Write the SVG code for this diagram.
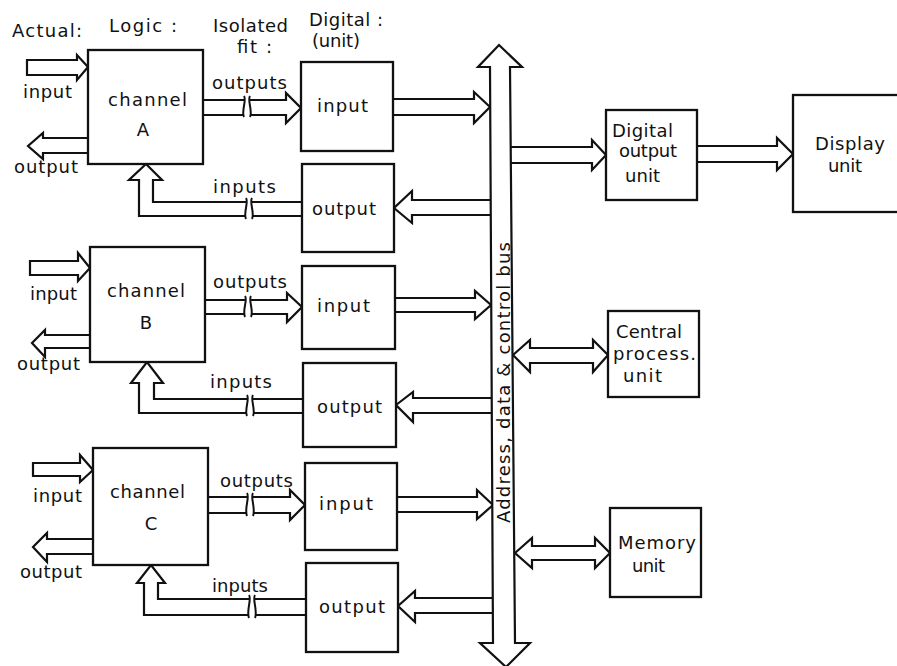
<svg xmlns="http://www.w3.org/2000/svg" width="897" height="666" viewBox="0 0 897 666">
<style>
  .box{fill:#fff;stroke:#111;stroke-width:2.3}
  .ar{fill:#fff;stroke:#111;stroke-width:2.2;stroke-linejoin:miter}
  .ln{fill:none;stroke:#111;stroke-width:2}
  .wh{fill:#fff;stroke:none}
  text{font-family:"DejaVu Sans","Liberation Sans",Arial,sans-serif;font-size:18px;fill:#111}
  .m{text-anchor:middle}
</style>
<rect width="897" height="666" fill="#fff"/>

<g id="headings">
  <text x="12" y="37" textLength="70" lengthAdjust="spacing">Actual:</text>
  <text x="109" y="32" textLength="68" lengthAdjust="spacing">Logic :</text>
  <text x="213" y="32" textLength="75" lengthAdjust="spacing">Isolated</text>
  <text x="237" y="53" textLength="35" lengthAdjust="spacing">fit :</text>
  <text x="309" y="26" textLength="74" lengthAdjust="spacing">Digital :</text>
  <text x="312" y="47" textLength="48" lengthAdjust="spacing">(unit)</text>
</g>

<g id="connectors">
  <!-- actual inputs (closed tail) -->
  <path class="ar" d="M27,60 H77 V55 L88,67 L77,80 V75 H27 Z"/>
  <path class="ar" d="M30,261 H78 V253 L90,268 L78,281 V275 H30 Z"/>
  <path class="ar" d="M33,463 H80 V455 L93,470 L80,482 V476 H33 Z"/>
  <!-- actual outputs -->
  <path class="ar" d="M88,138 H43 V133 L28,146 L43,159 V153 H88"/>
  <path class="ar" d="M90,335 H45 V330 L32,343 L45,357 V348 H90"/>
  <path class="ar" d="M93,539 H47 V533 L33,547 L47,562 V554 H93"/>

  <!-- channel outputs to digital input units -->
  <path class="ar" d="M203,100 H286 V93 L301,108 L286,123 V115 H203"/>
  <path class="ar" d="M205,300 H287 V293 L302,307 L287,322 V314 H205"/>
  <path class="ar" d="M208,497 H290 V490 L305,505 L290,520 V513 H208"/>
  <!-- breaks -->
  <rect class="wh" x="244" y="97" width="6" height="21"/>
  <path class="ln" d="M244,96 c3,4 -3,15 0,21 M250,96 c-3,4 3,15 0,21"/>
  <rect class="wh" x="245" y="297" width="6" height="20"/>
  <path class="ln" d="M245,296 c3,4 -3,14 0,21 M251,296 c-3,4 3,14 0,21"/>
  <rect class="wh" x="247" y="494" width="6" height="22"/>
  <path class="ln" d="M247,493 c3,4 -3,16 0,23 M253,493 c-3,4 3,16 0,23"/>

  <!-- feedback inputs -->
  <path class="ar" d="M302,202 H153 V180 H162 L146,164 L129,180 H139 V216 H302"/>
  <path class="ar" d="M303,399 H154 V383 H163 L147,362 L131,383 H139 V413 H303"/>
  <path class="ar" d="M306,599 H158 V583 H165 L151,565 L137,583 H144 V615 H306"/>
  <rect class="wh" x="246" y="199" width="6" height="20"/>
  <path class="ln" d="M246,198 c3,4 -3,15 0,21 M252,198 c-3,4 3,15 0,21"/>
  <rect class="wh" x="247" y="396" width="6" height="20"/>
  <path class="ln" d="M247,395 c3,4 -3,15 0,21 M253,395 c-3,4 3,15 0,21"/>
  <rect class="wh" x="249" y="596" width="6" height="22"/>
  <path class="ln" d="M249,595 c3,4 -3,16 0,23 M255,595 c-3,4 3,16 0,23"/>

  <!-- digital input units to bus -->
  <path class="ar" d="M393,99 H474 V92 L490,107 L474,123 V115 H393"/>
  <path class="ar" d="M395,298 H475 V291 L491,305 L475,319 V312 H395"/>
  <path class="ar" d="M397,497 H477 V490 L493,505 L477,519 V512 H397"/>
  <!-- bus to digital output units -->
  <path class="ar" d="M491,200 H412 V191 L394,208 L412,223 V215 H491"/>
  <path class="ar" d="M492,398 H413 V392 L396,405 L413,422 V413 H492"/>
  <path class="ar" d="M493,598 H415 V591 L398,606 L415,622 V613 H493"/>

  <!-- bus to digital output unit, to display -->
  <path class="ar" d="M511,147 H592 V140 L606,155 L592,170 V163 H511"/>
  <path class="ar" d="M697,146 H777 V138 L793,154 L777,170 V162 H697"/>
  <!-- CPU and memory double arrows -->
  <path class="ar" d="M513,355 L530,340 V348 H593 V340 L608,355 L593,372 V363 H530 V372 Z"/>
  <path class="ar" d="M515,553 L532,538 V546 H595 V538 L610,553 L595,568 V560 H532 V568 Z"/>

  <!-- bus -->
  <g id="bus">
    <path class="ar" d="M499,45 L522,67 H510 L515,643 H530 L506,667 L480,643 H493 L490,67 H478 Z"/>
    <text transform="translate(510,523) rotate(-90)" font-size="18" textLength="281" lengthAdjust="spacing">Address, data &amp; control bus</text>
  </g>
</g>

<g id="channelA">
  <rect class="box" x="88" y="50" width="115" height="114"/>
  <text x="108" y="106" textLength="79" lengthAdjust="spacing">channel</text>
  <text x="143" y="136" class="m">A</text>
  <text x="23" y="98" textLength="49" lengthAdjust="spacing">input</text>
  <text x="14" y="173" textLength="64" lengthAdjust="spacing">output</text>
  <text x="212" y="89" textLength="75" lengthAdjust="spacing">outputs</text>
  <text x="213" y="193" textLength="63" lengthAdjust="spacing">inputs</text>
</g>
<g id="channelB">
  <rect class="box" x="90" y="247" width="115" height="115"/>
  <text x="107" y="297" textLength="78" lengthAdjust="spacing">channel</text>
  <text x="146" y="329" class="m">B</text>
  <text x="30" y="300" textLength="47" lengthAdjust="spacing">input</text>
  <text x="17" y="370" textLength="63" lengthAdjust="spacing">output</text>
  <text x="213" y="288" textLength="74" lengthAdjust="spacing">outputs</text>
  <text x="210" y="388" textLength="62" lengthAdjust="spacing">inputs</text>
</g>
<g id="channelC">
  <rect class="box" x="93" y="448" width="115" height="117"/>
  <text x="110" y="498" textLength="75" lengthAdjust="spacing">channel</text>
  <text x="151" y="530" class="m">C</text>
  <text x="33" y="502" textLength="49" lengthAdjust="spacing">input</text>
  <text x="20" y="578" textLength="62" lengthAdjust="spacing">output</text>
  <text x="220" y="487" textLength="73" lengthAdjust="spacing">outputs</text>
  <text x="212" y="592" textLength="56" lengthAdjust="spacing">inputs</text>
</g>

<g id="inputA"><rect class="box" x="301" y="62" width="92" height="89"/><text x="317" y="112" textLength="51" lengthAdjust="spacing">input</text></g>
<g id="outputA"><rect class="box" x="302" y="164" width="92" height="88"/><text x="312" y="215" textLength="64" lengthAdjust="spacing">output</text></g>
<g id="inputB"><rect class="box" x="302" y="266" width="93" height="83"/><text x="317" y="312" textLength="53" lengthAdjust="spacing">input</text></g>
<g id="outputB"><rect class="box" x="303" y="363" width="93" height="84"/><text x="317" y="413" textLength="65" lengthAdjust="spacing">output</text></g>
<g id="inputC"><rect class="box" x="305" y="463" width="92" height="87"/><text x="319" y="510" textLength="54" lengthAdjust="spacing">input</text></g>
<g id="outputC"><rect class="box" x="306" y="563" width="92" height="89"/><text x="319" y="613" textLength="66" lengthAdjust="spacing">output</text></g>

<g id="digitalOutput">
  <rect class="box" x="606" y="110" width="91" height="90"/>
  <text x="612" y="137" textLength="61" lengthAdjust="spacing">Digital</text>
  <text x="619" y="157" textLength="58" lengthAdjust="spacing">output</text>
  <text x="625" y="182" textLength="35" lengthAdjust="spacing">unit</text>
</g>
<g id="display">
  <rect class="box" x="793" y="95" width="120" height="117"/>
  <text x="815" y="150" textLength="70" lengthAdjust="spacing">Display</text>
  <text x="828" y="172" textLength="34" lengthAdjust="spacing">unit</text>
</g>
<g id="cpu">
  <rect class="box" x="608" y="311" width="91" height="86"/>
  <text x="616" y="338" textLength="66" lengthAdjust="spacing">Central</text>
  <text x="613" y="360" textLength="83" lengthAdjust="spacing">process.</text>
  <text x="623" y="382" textLength="39" lengthAdjust="spacing">unit</text>
</g>
<g id="memory">
  <rect class="box" x="610" y="508" width="91" height="89"/>
  <text x="618" y="549" textLength="78" lengthAdjust="spacing">Memory</text>
  <text x="632" y="572" textLength="33" lengthAdjust="spacing">unit</text>
</g>
</svg>
